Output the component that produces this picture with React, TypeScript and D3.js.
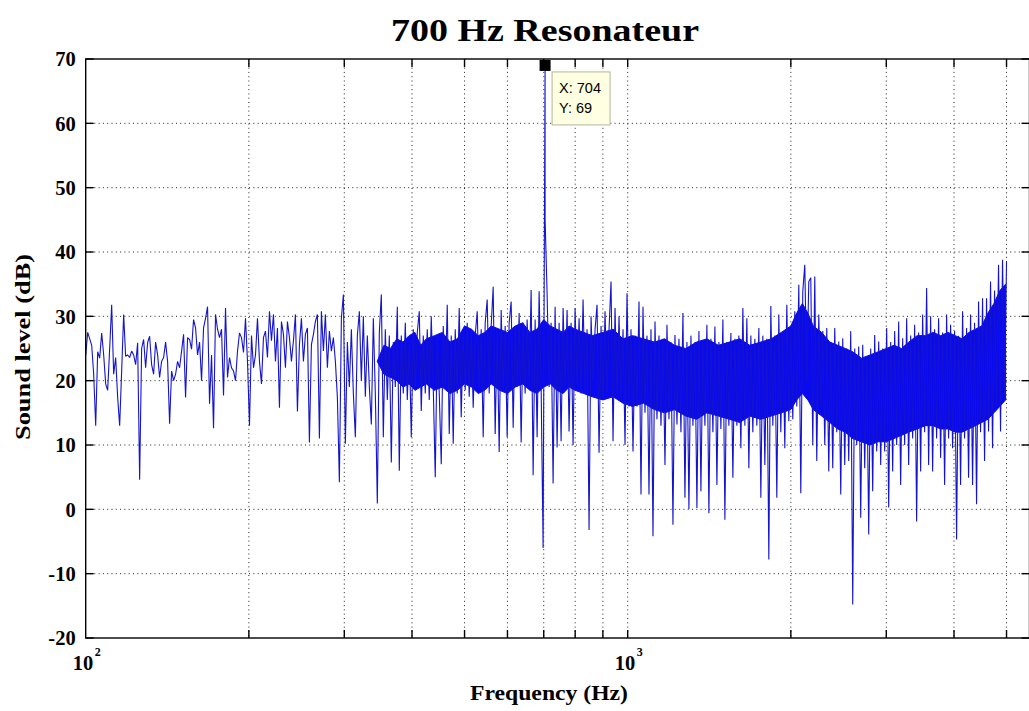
import React from "react";
import * as d3 from "d3";

// Canvas and plot box (pixels)
const WIDTH = 1029;
const HEIGHT = 711;
const BOX = { left: 85.7, right: 1029.5, top: 59, bottom: 638 };

// Axis domains and ticks
const freqDomain: [number, number] = [100, 5512.5];
const levelDomain: [number, number] = [-20, 70];
const levelTicks = [-20, -10, 0, 10, 20, 30, 40, 50, 60, 70];
const freqGrid = [200, 300, 400, 500, 600, 700, 800, 900, 1000, 2000, 3000, 4000, 5000];
const freqDecadeLabels = [
  { hz: 100, base: "10", exp: "2" },
  { hz: 1000, base: "10", exp: "3" },
];

// Spectrum samples, log-spaced from sweepStartHz to sweepEndHz (dB)
const sweepStartHz = 100;
const sweepEndHz = 5000;
const levelsLow = [
  24, 27.5, 26.5, 25.5, 21, 13, 24.5, 23.5, 27.4, 24,
  19.5, 18.5, 25, 31.8, 21, 23.6, 17.4, 13, 21.5, 30.3,
  23.8, 24, 23.6, 24.6, 24, 22.5, 25.9, 4.6, 25, 26.4,
  22, 25.9, 26.9, 22.5, 21, 26, 24, 20.5, 23, 23.6,
  26, 23, 13.3, 21.5, 20, 21, 23, 22, 24.6, 27.2,
  17.4, 26.7, 26.4, 24.9, 29.5, 28.2, 24, 26, 20, 28.2,
  29.7, 31.5, 16.4, 24, 12.6, 30.3, 28, 26.7, 28, 17.7,
  31.3, 20.5, 23.6, 22, 21.5, 20, 24.6, 27.4, 26.7, 24.4,
  29.7, 23, 13, 27,
  22, 24, 29.7, 23, 19.5, 26.7, 27.7, 23.6, 30.8, 26.2,
  30.3, 23, 28.2, 15.8, 29.2, 27.2, 22, 29.2, 26.7, 23,
  26.2, 30.3, 15.2, 25.6, 29.7, 23, 27.2, 28.2, 10.4, 25.6,
  27.2, 29.2, 30.3, 11, 30.8, 24.6, 30.3, 22, 27.7, 24.6,
  26.7, 23, 17.4,
];
const levelsMid = [
  4.2, 29.7, 33.4, 10.2, 26, 19, 28, 18, 11.2, 27,
  30.8, 20, 30, 17.5, 27, 19, 13.2, 29.7, 18, 0.9,
  27.5, 33.4, 11.2, 28, 17, 27, 7.3, 26, 19, 31.5,
  6, 27, 18, 29, 17, 26, 11.2, 28, 18.5, 27.5,
  30.8, 15.3, 27, 18, 28, 17, 30, 19, 5, 27,
  18, 7, 28.5, 19, 31.8, 11.7, 27, 10.2, 28, 18,
  31.3, 14.3, 27.5, 18.5, 29, 17.5, 28, 15.8, 27, 30.8,
  19, 28, 11.2, 29, 32.6, 18, 28.5, 34.6, 11.7, 28,
  8.9, 31, 18.5, 28.5, 11.2, 29, 32.3, 12.7, 28.5, 19,
  30.5, 10.4, 29, 18, 29.5, 19, 34.1, 5.3, 29.5, 11.2,
  33.9, 19, -6,
  45, 33.4, 19, 29, 4, 31.5, 9.6, 29, 10.6, 31.3,
  19, 31, 12.1, 29, 10, 31.3, 19.4, 29.7,
];
const levelsHigh = [
  18, 32.6, 18, 28, -3.2, 30, 19.9, 28, 31.8, 8.8,
  28.5, 17, 30.8, 18, 28, 35.4, 10.6, 31.3, 17.8, 30,
  17, 28, 10, 33.6, 16, 28, 9, 27, 16, 32.3,
  2.3, 31.5, 15, 27, 2.3, 28, -4.2, 29.2, 14, 27,
  13, 26.5, 6.9, 28.7, 14, 26, -2.4, 27.1, 13.2, 26.5,
  12, 30.5, 1.8, 26, 0, 27, 13, 26, 0.2, 27.7,
  2.8, 26, 13, 28.7, -0.6, 26.5, 12, 28.4, 3.8, 26,
  12.5, 29.5, -1.6, 26, 13, 27.4, 4.9, 26.5, 13, 27,
  9.5, 31.3, 13, 29.7, 6.4, 27, 12, 26.5, 13, 28.2,
  1.8, 27, 6.9, 26.5, -7.8, 31.6, 13, 27, 1.8, 30.3,
  12, 27.5, 9.5, 31.8, 13.7, 28, 14, 30.8, 16, 34.9,
  2.5, 33.9, 38, 19.9, 35.4, 36, 10, 36.2, 7.5, 30.3,
  16, 27.7, 10, 28.2, 5.9, 26, 6.4, 28.2, 12, 26.1,
  2.3, 26.6, 6.9, 25, 7.5, 27.7, -14.8, 25, 10, 25.3,
  -1.3, 25.6, 6.4, 23.5, -3.9, 25, 2.8, 27.1, 9, 26.1,
  6.9, 25, 9, 28.2, 0.3, 26, 5.9, 27.7, 10, 29.2,
  3.8, 26.6, 10, 29.7, 6.9, 27, 11, 28.7, -1.9, 27.5,
  5.9, 30.3, 12, 34.4, 6.9, 30, 5.9, 28, 11, 29.7,
  8, 27.5, 3.8, 30.3, 11, 28.7, 9.5, 27.7, -4.7, 27,
  3.8, 30.8, 11, 28.2, 4.9, 30.3, 3.8, 29, 0.8, 32.3,
  12, 32.8, 7.5, 32.8, 12.1, 35.4, 9.5, 34, 16.3, 38,
  12.1, 38.8, 17.8, 38.5,
];

// Dense noise floor band (where neighbouring bins merge into solid blue)
const coreHz = [
  345, 355, 365, 375, 385, 395, 405, 415, 425, 440,
  455, 470, 485, 500, 515, 530, 545, 560, 580, 600,
  620, 640, 660, 680, 700, 720, 740, 760, 780, 800,
  830, 860, 900, 940, 980, 1020, 1070, 1120, 1170, 1220,
  1280, 1340, 1400, 1470, 1540, 1610, 1680, 1760, 1840, 1920,
  2000, 2050, 2100, 2150, 2200, 2280, 2360, 2440, 2520, 2600,
  2700, 2800, 2900, 3000, 3100, 3200, 3300, 3420, 3540, 3660,
  3780, 3900, 4020, 4140, 4260, 4380, 4500, 4620, 4740, 4860,
  4980,
];
const coreTop = [
  23, 25.5, 25, 26.5, 26, 27, 27.5, 25.5, 26.5, 27,
  27.5, 26, 26.5, 28.5, 28, 27, 27.5, 28.5, 28, 27.5,
  28.5, 29, 27.5, 28, 29.5, 28.5, 28, 27.5, 28.5, 28,
  27.5, 27, 27.5, 28, 26.5, 27, 26.5, 26, 26.5, 25.5,
  25, 26, 26.5, 25.5, 26, 26.5, 25.5, 26, 26.5, 27.5,
  28.5, 30.5, 32, 30.5, 28.5, 27.5, 26, 25.5, 25, 24.5,
  23.5, 24, 24.5, 25, 25.5, 25, 26, 27, 27, 27.5,
  27, 27.5, 27, 26.5, 27.5, 28, 28.5, 30.5, 32, 34,
  35,
];
const coreBottom = [
  23, 21, 20.5, 20, 19, 19.5, 18.5, 19, 19.5, 18.5,
  19, 18, 18.5, 19.5, 19, 18, 18.5, 19.5, 18.5, 18,
  19, 19.5, 18.5, 18, 19, 19.5, 18.5, 18, 19, 18.5,
  18, 17.5, 17, 17.5, 16.5, 16, 16.5, 15.5, 15, 15.5,
  14.5, 14, 15, 14.5, 14, 13.5, 14.5, 14, 14.5, 15,
  15.5, 17, 18, 17, 15.5, 14.5, 13.5, 12.5, 12, 11,
  10.5, 10, 10.5, 10.5, 11, 11.5, 12, 12.5, 13, 13,
  12.5, 12.5, 12, 12, 12.5, 13, 13.5, 14, 15, 16,
  17,
];

// Data tip on the resonance peak
const peakHz = 704;
const peakDb = 69;

const TITLE = "700 Hz Resonateur";
const X_LABEL = "Frequency (Hz)";
const Y_LABEL = "Sound level (dB)";

const SERIF = "'Liberation Serif', 'Times New Roman', Times, serif";
const SANS = "'Liberation Sans', Arial, Helvetica, sans-serif";

export default function App() {
  const x = d3.scaleLog().domain(freqDomain).range([BOX.left, BOX.right]);
  const y = d3.scaleLinear().domain(levelDomain).range([BOX.bottom, BOX.top]);

  const levels = [...levelsLow, ...levelsMid, ...levelsHigh];
  const n = levels.length;
  const sweep: [number, number][] = levels.map((db, i) => [
    sweepStartHz * Math.pow(sweepEndHz / sweepStartHz, i / (n - 1)),
    db,
  ]);
  sweep.push([peakHz, peakDb]);
  sweep.sort((a, b) => a[0] - b[0]);

  const line = d3
    .line<[number, number]>()
    .x((d) => x(d[0]))
    .y((d) => y(d[1]));

  const core = d3
    .area<number>()
    .x((_, i) => x(coreHz[i]))
    .y0((_, i) => y(coreBottom[i]))
    .y1((_, i) => y(coreTop[i]));

  const tickLen = 8;
  const px = x(peakHz);
  const py = y(peakDb);

  return (
    <svg
      width={WIDTH}
      height={HEIGHT}
      viewBox={`0 0 ${WIDTH} ${HEIGHT}`}
      style={{ position: "absolute", left: 0, top: 0, background: "#ffffff" }}
    >
      <rect x={0} y={0} width={WIDTH} height={HEIGHT} fill="#ffffff" />

      {/* dotted grid */}
      <g stroke="#222" strokeWidth={1} strokeDasharray="1 3.3" fill="none">
        {freqGrid.map((f) => (
          <line key={`gx${f}`} x1={x(f)} x2={x(f)} y1={BOX.top} y2={BOX.bottom} />
        ))}
        {levelTicks
          .filter((v) => v > levelDomain[0] && v < levelDomain[1])
          .map((v) => (
            <line key={`gy${v}`} x1={BOX.left} x2={BOX.right} y1={y(v)} y2={y(v)} />
          ))}
      </g>

      {/* spectrum */}
      <path d={core(coreHz) ?? ""} fill="#0a0af0" stroke="#0a0af0" strokeWidth={1} />
      <path
        d={line(sweep) ?? ""}
        fill="none"
        stroke="#1414cc"
        strokeWidth={1.1}
        strokeLinejoin="miter"
        strokeMiterlimit={2}
      />

      {/* axes box and ticks */}
      <g stroke="#000" strokeWidth={1.4} fill="none">
        <rect
          x={BOX.left}
          y={BOX.top}
          width={BOX.right - BOX.left}
          height={BOX.bottom - BOX.top}
        />
        {levelTicks.map((v) => (
          <g key={`ty${v}`}>
            <line x1={BOX.left} x2={BOX.left + tickLen} y1={y(v)} y2={y(v)} />
            <line x1={BOX.right - tickLen} x2={BOX.right} y1={y(v)} y2={y(v)} />
          </g>
        ))}
        {freqGrid.map((f) => (
          <g key={`tx${f}`}>
            <line x1={x(f)} x2={x(f)} y1={BOX.bottom} y2={BOX.bottom - tickLen} />
            <line x1={x(f)} x2={x(f)} y1={BOX.top} y2={BOX.top + tickLen} />
          </g>
        ))}
      </g>

      {/* y tick labels */}
      <g fontFamily={SERIF} fontSize={20.5} fontWeight="bold" fill="#000" textAnchor="end">
        {levelTicks.map((v) => (
          <text key={`ly${v}`} x={BOX.left - 10} y={y(v)} dy="0.35em">
            {v}
          </text>
        ))}
      </g>

      {/* x decade labels */}
      <g fontFamily={SERIF} fontWeight="bold" fill="#000">
        {freqDecadeLabels.map((d) => (
          <g key={`lx${d.hz}`}>
            <text x={x(d.hz) + 7.5} y={670} fontSize={20.5} textAnchor="end">
              {d.base}
            </text>
            <text x={x(d.hz) + 9} y={656} fontSize={12} textAnchor="start">
              {d.exp}
            </text>
          </g>
        ))}
      </g>

      {/* titles */}
      <text
        x={545}
        y={41}
        fontFamily={SERIF}
        fontWeight="bold"
        fontSize={31}
        textAnchor="middle"
        textLength={308}
        lengthAdjust="spacingAndGlyphs"
      >
        {TITLE}
      </text>
      <text
        x={549}
        y={700}
        fontFamily={SERIF}
        fontWeight="bold"
        fontSize={22}
        textAnchor="middle"
        textLength={158}
        lengthAdjust="spacingAndGlyphs"
      >
        {X_LABEL}
      </text>
      <text
        transform={`translate(30, 347) rotate(-90)`}
        fontFamily={SERIF}
        fontWeight="bold"
        fontSize={22}
        textAnchor="middle"
        textLength={186}
        lengthAdjust="spacingAndGlyphs"
      >
        {Y_LABEL}
      </text>

      {/* data tip */}
      <rect x={px - 5.5} y={py - 5.5} width={11} height={11} fill="#000" />
      <g>
        <rect
          x={px + 7}
          y={py + 6.5}
          width={58}
          height={53}
          fill="#ffffe1"
          stroke="#b4b4a0"
          strokeWidth={1}
        />
        <text x={px + 14} y={py + 28} fontFamily={SANS} fontSize={14.5} fill="#000">
          {`X: ${peakHz}`}
        </text>
        <text x={px + 14} y={py + 48} fontFamily={SANS} fontSize={14.5} fill="#000">
          {`Y: ${peakDb}`}
        </text>
      </g>
    </svg>
  );
}
